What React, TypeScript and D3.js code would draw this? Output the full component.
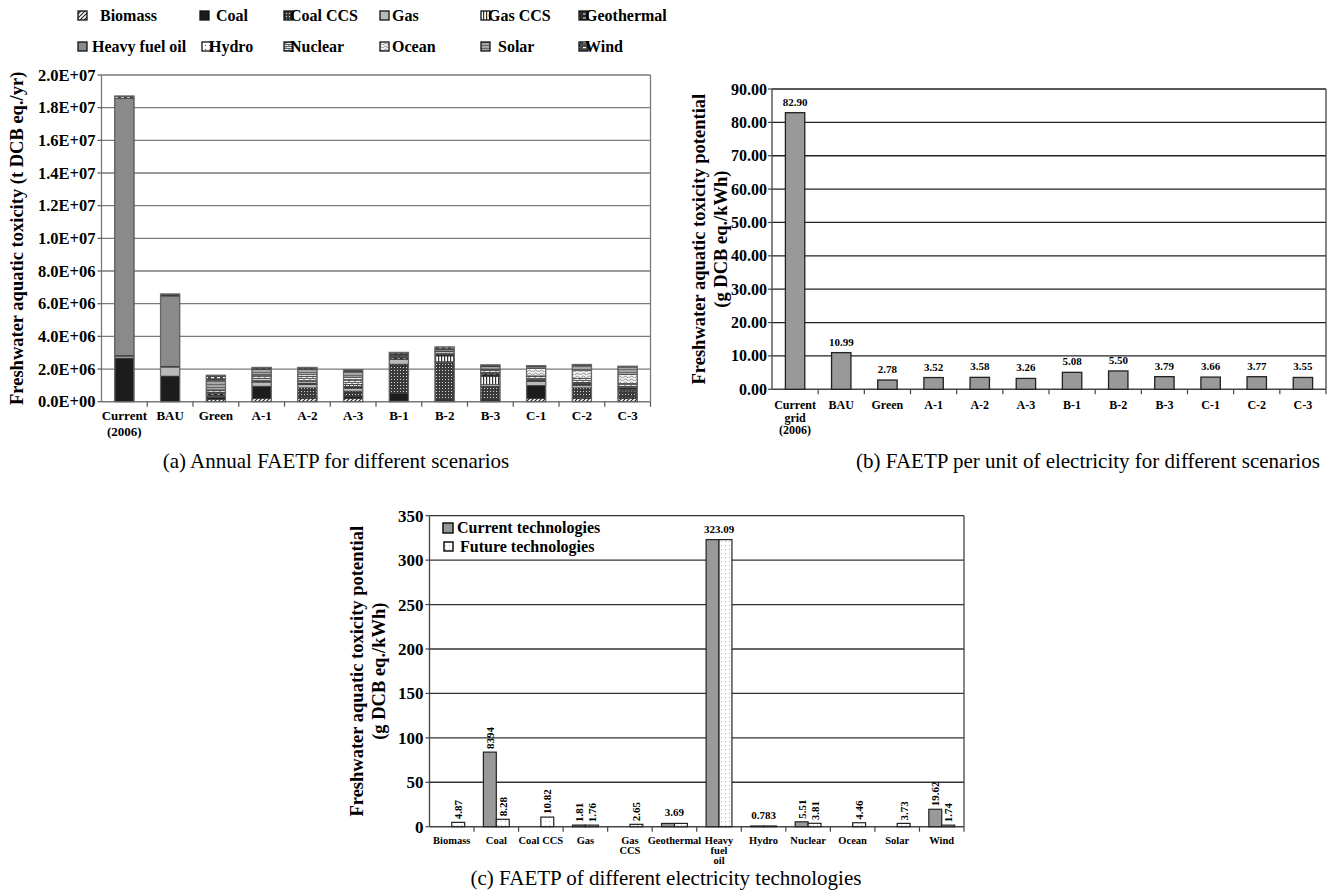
import React from 'react';
import * as d3 from 'd3';

// ---------- Chart (a) data: annual FAETP (million t DCB eq./yr) ----------
const scenariosA = ['Current\n(2006)', 'BAU', 'Green', 'A-1', 'A-2', 'A-3', 'B-1', 'B-2', 'B-3', 'C-1', 'C-2', 'C-3'];
const techNames = ['Biomass', 'Coal', 'Coal CCS', 'Gas', 'Gas CCS', 'Geothermal', 'Heavy fuel oil', 'Hydro', 'Nuclear', 'Ocean', 'Solar', 'Wind'];
const biomassA = [0.02, 0.02, 0.15, 0.2, 0.2, 0.2, 0.05, 0.05, 0.05, 0.2, 0.2, 0.2];
const coalA = [2.65, 1.55, 0.12, 0.75, 0.05, 0.1, 0.45, 0.05, 0.05, 0.8, 0.05, 0.05];
const coalCcsA = [0, 0, 0.05, 0, 0.6, 0.35, 1.8, 2.3, 0.85, 0, 0.6, 0.4];
const gasA = [0.12, 0.55, 0.05, 0.25, 0.2, 0.15, 0.3, 0.05, 0.1, 0.25, 0.15, 0.05];
const gasCcsA = [0, 0, 0, 0, 0, 0.05, 0, 0.35, 0.5, 0, 0.05, 0.05];
const geothermalA = [0.03, 0.05, 0.12, 0.05, 0.05, 0.05, 0.1, 0.1, 0.15, 0.05, 0.05, 0.1];
const heavyFuelOilA = [15.75, 4.3, 0.03, 0.05, 0.05, 0.05, 0.05, 0.05, 0.03, 0.03, 0.03, 0.02];
const hydroA = [0.02, 0.02, 0.05, 0.1, 0.1, 0.1, 0.05, 0.1, 0.07, 0.05, 0.05, 0.05];
const nuclearA = [0, 0, 0.1, 0.2, 0.3, 0.3, 0.05, 0.05, 0.15, 0.2, 0.25, 0.2];
const oceanA = [0, 0, 0.05, 0.05, 0.1, 0.15, 0, 0, 0.05, 0.45, 0.5, 0.55];
const solarA = [0, 0, 0.6, 0.35, 0.35, 0.35, 0.05, 0.1, 0.15, 0.1, 0.3, 0.45];
const windA = [0.12, 0.1, 0.3, 0.1, 0.1, 0.1, 0.12, 0.15, 0.1, 0.08, 0.05, 0.05];
const yTicksA = [0, 2e6, 4e6, 6e6, 8e6, 10e6, 12e6, 14e6, 16e6, 18e6, 20e6];

// ---------- Chart (b) data ----------
const scenariosB = ['Current\ngrid\n(2006)', 'BAU', 'Green', 'A-1', 'A-2', 'A-3', 'B-1', 'B-2', 'B-3', 'C-1', 'C-2', 'C-3'];
const perKwhB = [82.9, 10.99, 2.78, 3.52, 3.58, 3.26, 5.08, 5.5, 3.79, 3.66, 3.77, 3.55];
const yTicksB = [0, 10, 20, 30, 40, 50, 60, 70, 80, 90];

// ---------- Chart (c) data ----------
const techsC = ['Biomass', 'Coal', 'Coal CCS', 'Gas', 'Gas\nCCS', 'Geothermal', 'Heavy\nfuel\noil', 'Hydro', 'Nuclear', 'Ocean', 'Solar', 'Wind'];
const currentC: (number | null)[] = [null, 83.94, null, 1.81, null, 3.69, 323.09, 0.783, 5.51, null, null, 19.62];
const futureC: (number | null)[] = [4.87, 8.28, 10.82, 1.76, 2.65, 3.69, 323.09, 0.783, 3.81, 4.46, 3.73, 1.74];
const currentLabelsC = ['', '8394', '', '1.81', '', '', '', '', '5.51', '', '', '19.62'];
const futureLabelsC = ['4.87', '8.28', '10.82', '1.76', '2.65', '', '', '', '3.81', '4.46', '3.73', '1.74'];
const groupLabelsC = ['', '', '', '', '', '3.69', '323.09', '0.783', '', '', '', ''];
const yTicksC = [0, 50, 100, 150, 200, 250, 300, 350];

const FONT = '"Liberation Serif", "Times New Roman", serif';
const patternIds = ['pBiomass', 'pCoal', 'pCoalCcs', 'pGas', 'pGasCcs', 'pGeo', 'pHfo', 'pHydro', 'pNuclear', 'pOcean', 'pSolar', 'pWind'];

function fmtE(v: number) {
  if (v === 0) return '0.0E+00';
  const e = Math.floor(Math.log10(v) + 1e-9);
  const m = v / Math.pow(10, e);
  return `${m.toFixed(1)}E+${String(e).padStart(2, '0')}`;
}

function MultiLine({ x, y, text, size, lh, anchor = 'middle' }: any) {
  const lines = text.split('\n');
  return (
    <text x={x} y={y} fontSize={size} fontWeight="bold" textAnchor={anchor} fontFamily={FONT}>
      {lines.map((l: string, i: number) => (
        <tspan key={i} x={x} dy={i === 0 ? 0 : lh}>{l}</tspan>
      ))}
    </text>
  );
}

function Patterns() {
  return (
    <defs>
      <pattern id="pBiomass" width="4" height="4" patternUnits="userSpaceOnUse">
        <rect width="4" height="4" fill="#fff" />
        <path d="M0,4 L4,0 M-1,1 L1,-1 M3,5 L5,3" stroke="#222" strokeWidth="1.2" />
      </pattern>
      <pattern id="pCoal" width="4" height="4" patternUnits="userSpaceOnUse">
        <rect width="4" height="4" fill="#1c1c1c" />
      </pattern>
      <pattern id="pCoalCcs" width="3" height="3" patternUnits="userSpaceOnUse">
        <rect width="3" height="3" fill="#3a3a3a" />
        <rect x="1" y="1" width="1" height="1" fill="#d8d8d8" />
      </pattern>
      <pattern id="pGas" width="4" height="4" patternUnits="userSpaceOnUse">
        <rect width="4" height="4" fill="#b9b9b9" />
      </pattern>
      <pattern id="pGasCcs" width="3" height="4" patternUnits="userSpaceOnUse">
        <rect width="3" height="4" fill="#fff" />
        <rect x="0" y="0" width="1.2" height="4" fill="#333" />
      </pattern>
      <pattern id="pGeo" width="6" height="4" patternUnits="userSpaceOnUse">
        <rect width="6" height="4" fill="#2a2a2a" />
        <rect x="1" y="1.5" width="3" height="1" fill="#eee" />
      </pattern>
      <pattern id="pHfo" width="4" height="4" patternUnits="userSpaceOnUse">
        <rect width="4" height="4" fill="#8a8a8a" />
      </pattern>
      <pattern id="pHydro" width="4" height="4" patternUnits="userSpaceOnUse">
        <rect width="4" height="4" fill="#fff" />
        <rect x="1" y="1" width="1" height="1" fill="#555" />
      </pattern>
      <pattern id="pNuclear" width="6" height="4" patternUnits="userSpaceOnUse">
        <rect width="6" height="4" fill="#eee" />
        <path d="M0,0.5 H6 M0,2.5 H6 M1,0.5 V2.5 M4,2.5 V4.5" stroke="#555" strokeWidth="0.9" />
      </pattern>
      <pattern id="pOcean" width="6" height="3" patternUnits="userSpaceOnUse">
        <rect width="6" height="3" fill="#f2f2f2" />
        <path d="M0,2 Q1.5,0 3,2 T6,2" stroke="#777" strokeWidth="0.8" fill="none" />
      </pattern>
      <pattern id="pSolar" width="4" height="3" patternUnits="userSpaceOnUse">
        <rect width="4" height="3" fill="#a5a5a5" />
        <rect x="0" y="0" width="4" height="1" fill="#6a6a6a" />
      </pattern>
      <pattern id="pWind" width="6" height="5" patternUnits="userSpaceOnUse">
        <rect width="6" height="5" fill="#4a4a4a" />
        <rect x="1" y="2" width="3" height="1.2" fill="#fff" />
      </pattern>
      <pattern id="pFuture" width="4" height="4" patternUnits="userSpaceOnUse">
        <rect width="4" height="4" fill="#fff" />
        <rect x="1" y="1" width="0.8" height="0.8" fill="#888" />
      </pattern>
    </defs>
  );
}

function ChartA() {
  const x0 = 101.5, x1 = 650.5, yTop = 75, yBot = 401.7;
  const x = d3.scaleBand().domain(scenariosA).range([x0, x1]).paddingInner(0.58).paddingOuter(0.29);
  const y = d3.scaleLinear().domain([0, 2e7]).range([yBot, yTop]);
  const seriesArrays = [biomassA, coalA, coalCcsA, gasA, gasCcsA, geothermalA, heavyFuelOilA, hydroA, nuclearA, oceanA, solarA, windA];
  const rows = scenariosA.map((s, i) => {
    const r: any = { s };
    techNames.forEach((t, k) => (r[t] = seriesArrays[k][i] * 1e6));
    return r;
  });
  const stacked = d3.stack().keys(techNames)(rows);
  const step = x.step();
  const legendPos = [
    [78, 21, 100], [200, 21, 216], [284, 21, 290], [380, 21, 392], [481, 21, 488], [579, 21, 585],
    [78, 52, 92], [202, 52, 209], [284, 52, 290], [380, 52, 392], [481, 52, 498], [579, 52, 585],
  ];
  return (
    <g>
      {/* legend */}
      {techNames.map((t, k) => (
        <g key={t}>
          <rect x={legendPos[k][0]} y={legendPos[k][1] - 10} width={9} height={9} fill={`url(#${patternIds[k]})`} stroke="#111" strokeWidth={1.3} />
          <text x={legendPos[k][2]} y={legendPos[k][1]} fontSize={16} fontWeight="bold" fontFamily={FONT}>{t}</text>
        </g>
      ))}
      {/* grid */}
      {yTicksA.filter((t) => t > 0).map((t) => (
        <line key={t} x1={x0} x2={x1} y1={y(t)} y2={y(t)} stroke="#7a7a7a" strokeWidth={1.3} />
      ))}
      <line x1={x1} x2={x1} y1={yTop} y2={yBot} stroke="#7a7a7a" strokeWidth={1.3} />
      <line x1={x0} x2={x0} y1={yTop} y2={yBot} stroke="#7a7a7a" strokeWidth={1.3} />
      <line x1={x0} x2={x1} y1={yBot} y2={yBot} stroke="#7a7a7a" strokeWidth={1.6} />
      {yTicksA.map((t) => (
        <g key={t}>
          <line x1={x0 - 4} x2={x0} y1={y(t)} y2={y(t)} stroke="#555" strokeWidth={1.2} />
          <text x={x0 - 6} y={y(t) + 5.5} fontSize={16.5} fontWeight="bold" textAnchor="end" fontFamily={FONT}>{fmtE(t)}</text>
        </g>
      ))}
      {scenariosA.map((s, i) => (
        <line key={s} x1={x0 + step * (i + 1)} x2={x0 + step * (i + 1)} y1={yBot} y2={yBot + 5} stroke="#555" strokeWidth={1.2} />
      ))}
      {/* bars */}
      {stacked.map((ser, k) => (
        <g key={ser.key}>
          {ser.map((d: any, i: number) =>
            d[1] - d[0] > 0 ? (
              <rect key={i} x={x(scenariosA[i])!} width={x.bandwidth()} y={y(d[1])} height={y(d[0]) - y(d[1])}
                fill={`url(#${patternIds[k]})`} stroke="#333" strokeWidth={0.6} />
            ) : null
          )}
        </g>
      ))}
      {rows.map((r, i) => {
        const total = d3.sum(techNames, (t) => r[t]);
        return <rect key={i} x={x(scenariosA[i])!} width={x.bandwidth()} y={y(total)} height={yBot - y(total)} fill="none" stroke="#666" strokeWidth={1.2} />;
      })}
      {scenariosA.map((s) => (
        <MultiLine key={s} x={x(s)! + x.bandwidth() / 2} y={yBot + 18} text={s} size={13} lh={16} />
      ))}
      <text transform={`translate(23,${(yTop + yBot) / 2}) rotate(-90)`} fontSize={18.5} fontWeight="bold" textAnchor="middle" fontFamily={FONT}>
        Freshwater aquatic toxicity (t DCB eq./yr)
      </text>
      <text x={336} y={468} fontSize={21} textAnchor="middle" fontFamily={FONT}>(a) Annual FAETP for different scenarios</text>
    </g>
  );
}

function ChartB() {
  const x0 = 772, x1 = 1326, yTop = 89, yBot = 389.3;
  const x = d3.scaleBand().domain(scenariosB).range([x0, x1]).paddingInner(0.58).paddingOuter(0.29);
  const y = d3.scaleLinear().domain([0, 90]).range([yBot, yTop]);
  const step = x.step();
  return (
    <g>
      {yTicksB.filter((t) => t > 0).map((t) => (
        <line key={t} x1={x0} x2={x1} y1={y(t)} y2={y(t)} stroke="#222" strokeWidth={1.3} />
      ))}
      <line x1={x1} x2={x1} y1={yTop} y2={yBot} stroke="#444" strokeWidth={1.3} />
      <line x1={x0} x2={x0} y1={yTop} y2={yBot} stroke="#444" strokeWidth={1.3} />
      <line x1={x0} x2={x1} y1={yBot} y2={yBot} stroke="#444" strokeWidth={1.6} />
      {yTicksB.map((t) => (
        <g key={t}>
          <line x1={x0 - 4} x2={x0} y1={y(t)} y2={y(t)} stroke="#444" strokeWidth={1.2} />
          <text x={x0 - 5} y={y(t) + 5.5} fontSize={16} fontWeight="bold" textAnchor="end" fontFamily={FONT}>{t.toFixed(2)}</text>
        </g>
      ))}
      {scenariosB.map((s, i) => (
        <line key={s} x1={x0 + step * (i + 1)} x2={x0 + step * (i + 1)} y1={yBot} y2={yBot + 5} stroke="#444" strokeWidth={1.2} />
      ))}
      {scenariosB.map((s, i) => (
        <g key={s}>
          <rect x={x(s)!} width={x.bandwidth()} y={y(perKwhB[i])} height={yBot - y(perKwhB[i])} fill="#999" stroke="#222" strokeWidth={1.3} />
          <text x={x(s)! + x.bandwidth() / 2} y={y(perKwhB[i]) - 7} fontSize={11} fontWeight="bold" textAnchor="middle" fontFamily={FONT}>{perKwhB[i].toFixed(2)}</text>
          <MultiLine x={x(s)! + x.bandwidth() / 2} y={yBot + 20} text={s} size={12} lh={12.5} />
        </g>
      ))}
      <text transform={`translate(705,${(yTop + yBot) / 2}) rotate(-90)`} fontSize={18.5} fontWeight="bold" textAnchor="middle" fontFamily={FONT}>
        Freshwater aquatic toxicity potential
      </text>
      <text transform={`translate(727,${(yTop + yBot) / 2}) rotate(-90)`} fontSize={18.5} fontWeight="bold" textAnchor="middle" fontFamily={FONT}>
        (g DCB eq./kWh)
      </text>
      <text x={1088} y={468} fontSize={21} textAnchor="middle" fontFamily={FONT}>(b) FAETP per unit of electricity for different scenarios</text>
    </g>
  );
}

function ChartC() {
  const x0 = 429.5, x1 = 964, yTop = 515.7, yBot = 826.7;
  const x = d3.scaleBand().domain(techsC).range([x0, x1]).paddingInner(0.42).paddingOuter(0.21);
  const sub = d3.scaleBand().domain(['current', 'future']).range([0, x.bandwidth()]);
  const y = d3.scaleLinear().domain([0, 350]).range([yBot, yTop]);
  const step = x.step();
  return (
    <g>
      {yTicksC.filter((t) => t > 0).map((t) => (
        <line key={t} x1={x0} x2={x1} y1={y(t)} y2={y(t)} stroke="#333" strokeWidth={1.3} />
      ))}
      <line x1={x1} x2={x1} y1={yTop} y2={yBot} stroke="#444" strokeWidth={1.3} />
      <line x1={x0} x2={x0} y1={yTop} y2={yBot} stroke="#444" strokeWidth={1.3} />
      <line x1={x0} x2={x1} y1={yBot} y2={yBot} stroke="#444" strokeWidth={1.6} />
      {yTicksC.map((t) => (
        <g key={t}>
          <line x1={x0 - 4} x2={x0} y1={y(t)} y2={y(t)} stroke="#444" strokeWidth={1.2} />
          <text x={x0 - 6} y={y(t) + 6} fontSize={17} fontWeight="bold" textAnchor="end" fontFamily={FONT}>{t}</text>
        </g>
      ))}
      {techsC.map((s, i) => (
        <line key={s} x1={x0 + step * (i + 1)} x2={x0 + step * (i + 1)} y1={yBot} y2={yBot + 5} stroke="#444" strokeWidth={1.2} />
      ))}
      {techsC.map((s, i) => {
        const gx = x(s)!;
        const cv = currentC[i];
        const fv = futureC[i];
        const cx = gx + sub('current')!;
        const fx = gx + sub('future')!;
        const w = sub.bandwidth();
        return (
          <g key={s}>
            {cv !== null && (
              <rect x={cx} width={w} y={y(cv)} height={yBot - y(cv)} fill="#999" stroke="#222" strokeWidth={1.2} />
            )}
            {fv !== null && (
              <rect x={fx} width={w} y={y(fv)} height={yBot - y(fv)} fill="url(#pFuture)" stroke="#222" strokeWidth={1.2} />
            )}
            {cv !== null && currentLabelsC[i] && (
              <text transform={`translate(${cx + w / 2 + 4},${y(cv) - 3}) rotate(-90)`} fontSize={11} fontWeight="bold" fontFamily={FONT}>{currentLabelsC[i]}</text>
            )}
            {fv !== null && futureLabelsC[i] && (
              <text transform={`translate(${fx + w / 2 + 4},${y(fv) - 3}) rotate(-90)`} fontSize={11} fontWeight="bold" fontFamily={FONT}>{futureLabelsC[i]}</text>
            )}
            {groupLabelsC[i] && (
              <text x={gx + x.bandwidth() / 2} y={y(Math.max(cv ?? 0, fv ?? 0)) - 7} fontSize={11} fontWeight="bold" textAnchor="middle" fontFamily={FONT}>{groupLabelsC[i]}</text>
            )}
            <MultiLine x={gx + x.bandwidth() / 2} y={yBot + 17} text={s} size={10.5} lh={10} />
          </g>
        );
      })}
      {/* legend */}
      <rect x={443} y={523} width={10} height={10} fill="#999" stroke="#111" strokeWidth={1.5} />
      <text x={457} y={533} fontSize={16} fontWeight="bold" fontFamily={FONT}>Current technologies</text>
      <rect x={444} y={542} width={9} height={9} fill="url(#pFuture)" stroke="#111" strokeWidth={1.5} />
      <text x={460} y={552} fontSize={16} fontWeight="bold" fontFamily={FONT}>Future technologies</text>
      <text transform={`translate(363,${(yTop + yBot) / 2}) rotate(-90)`} fontSize={18.5} fontWeight="bold" textAnchor="middle" fontFamily={FONT}>
        Freshwater aquatic toxicity potential
      </text>
      <text transform={`translate(385,${(yTop + yBot) / 2}) rotate(-90)`} fontSize={18.5} fontWeight="bold" textAnchor="middle" fontFamily={FONT}>
        (g DCB eq./kWh)
      </text>
      <text x={666} y={885} fontSize={21} textAnchor="middle" fontFamily={FONT}>(c) FAETP  of different electricity technologies</text>
    </g>
  );
}

export default function App() {
  return (
    <svg width={1333} height={895} style={{ position: 'absolute', left: 0, top: 0, background: '#fff' }}>
      <Patterns />
      <rect width={1333} height={895} fill="#fff" />
      <ChartA />
      <ChartB />
      <ChartC />
    </svg>
  );
}
